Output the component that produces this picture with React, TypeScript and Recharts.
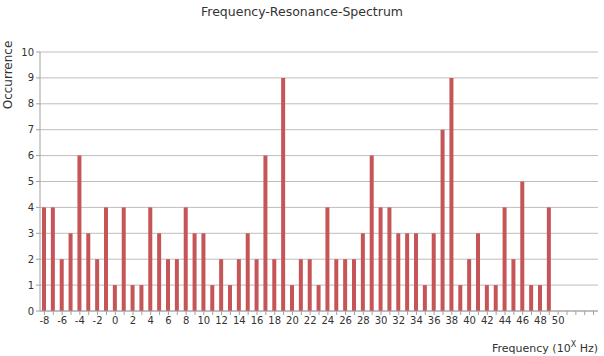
import React from 'react';
import { BarChart, Bar, XAxis, YAxis, CartesianGrid } from 'recharts';

const FREQUENCIES = [
  -8, -7, -6, -5, -4, -3, -2, -1, 0, 1, 2, 3, 4, 5, 6, 7, 8, 9, 10, 11, 12, 13, 14, 15, 16,
  17, 18, 19, 20, 21, 22, 23, 24, 25, 26, 27, 28, 29, 30, 31, 32, 33, 34, 35, 36, 37, 38,
  39, 40, 41, 42, 43, 44, 45, 46, 47, 48, 49, 50, 51, 52, 53, 54,
];

const OCCURRENCES = [
  4, 4, 2, 3, 6, 3, 2, 4, 1, 4, 1, 1, 4, 3, 2, 2, 4, 3, 3, 1, 2, 1, 2, 3, 2,
  6, 2, 9, 1, 2, 2, 1, 4, 2, 2, 2, 3, 6, 4, 4, 3, 3, 3, 1, 3, 7, 9,
  1, 2, 3, 1, 1, 4, 2, 5, 1, 1, 4, 0, 0, 0, 0, 0,
];

const Y_TICKS = [0, 1, 2, 3, 4, 5, 6, 7, 8, 9, 10];
const LAST_LABEL = 50;

const FONT = '"DejaVu Sans", Verdana, sans-serif';
const BAR_COLOR = '#c65558';

const data = FREQUENCIES.map((f, i) => ({ freq: f, count: OCCURRENCES[i] }));

export default function App() {
  return (
    <div style={{ position: 'absolute', left: 0, top: 0, width: 604, height: 356, background: '#fff', fontFamily: FONT }}>
      <div
        style={{
          position: 'absolute',
          top: 4,
          left: 0,
          width: 604,
          textAlign: 'center',
          fontSize: 12.5,
          color: '#333',
        }}
      >
        Frequency-Resonance-Spectrum
      </div>
      <div
        style={{
          position: 'absolute',
          left: 8 - 45,
          top: 75 - 8,
          width: 90,
          height: 16,
          lineHeight: '16px',
          textAlign: 'center',
          fontSize: 12,
          color: '#333',
          transform: 'rotate(-90deg)',
        }}
      >
        Occurrence
      </div>
      <div
        style={{
          position: 'absolute',
          right: 6,
          top: 342,
          fontSize: 11,
          color: '#333',
          whiteSpace: 'nowrap',
        }}
      >
        Frequency (10<sup style={{ fontSize: 8, verticalAlign: 'super', lineHeight: 0 }}>X</sup> Hz)
      </div>
      <BarChart
        width={604}
        height={356}
        data={data}
        margin={{ top: 52, right: 6, left: 10, bottom: 25 }}
        barCategoryGap={0}
        style={{ position: 'absolute', left: 0, top: 0 }}
      >
        <CartesianGrid horizontal vertical={false} stroke="#bdbdbd" />
        <XAxis
          dataKey="freq"
          type="category"
          interval={0}
          height={20}
          stroke="#a0a0a0"
          tickSize={4}
          tick={{ fontSize: 10, fill: '#333', fontFamily: FONT }}
          tickFormatter={(v: number) => (v % 2 === 0 && v <= LAST_LABEL ? String(v) : '')}
        />
        <YAxis
          width={30}
          domain={[0, 10]}
          ticks={Y_TICKS}
          interval={0}
          stroke="#a0a0a0"
          tickSize={4}
          tick={{ fontSize: 10, fill: '#333', fontFamily: FONT }}
        />
        <Bar dataKey="count" fill={BAR_COLOR} barSize={4} isAnimationActive={false} />
      </BarChart>
    </div>
  );
}
